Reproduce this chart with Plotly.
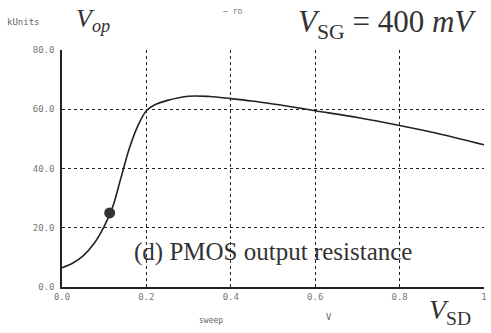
import plotly.graph_objects as go

# Data
vsd = [0.0, 0.025, 0.05, 0.075, 0.1, 0.12, 0.14, 0.16, 0.18, 0.2, 0.22, 0.25,
       0.3, 0.35, 0.4, 0.45, 0.5, 0.55, 0.6, 0.7, 0.8, 0.9, 1.0]
ro = [6.5, 8.0, 10.5, 14.5, 20.5, 27.0, 37.0, 47.0, 54.5, 59.5, 61.5, 63.0,
      64.4, 64.3, 63.6, 62.8, 61.8, 60.7, 59.5, 57.2, 54.5, 51.5, 48.0]
marker_x = [0.113]
marker_y = [25.0]
x_ticks = [0.0, 0.2, 0.4, 0.6, 0.8, 1.0]
x_ticktext = ["0.0", "0.2", "0.4", "0.6", "0.8", "1"]
y_ticks = [0, 20, 40, 60, 80]

W, H = 491, 333
ML, MR, MT, MB = 62, 4, 50, 46

fig = go.Figure()
fig.add_trace(go.Scatter(x=vsd, y=ro, mode="lines", line=dict(color="#222", width=1.6),
                         line_shape="spline", name="ro", showlegend=False))
fig.add_trace(go.Scatter(x=marker_x, y=marker_y, mode="markers",
                         marker=dict(color="#333", size=11), showlegend=False))

tickfont = dict(family="DejaVu Sans Mono", size=9, color="#777")
fig.update_layout(
    width=W, height=H,
    margin=dict(l=ML, r=MR, t=MT, b=MB),
    paper_bgcolor="white", plot_bgcolor="white",
    xaxis=dict(range=[0, 1], tickvals=x_ticks, ticktext=x_ticktext, tickfont=tickfont,
               showgrid=True, gridcolor="#222", griddash="dot", gridwidth=1.3,
               showline=True, linecolor="#222", linewidth=1.5, ticks="", zeroline=False),
    yaxis=dict(range=[0, 80], tickvals=y_ticks, tickformat=".1f", tickfont=tickfont,
               showgrid=True, gridcolor="#222", griddash="dot", gridwidth=1.3,
               showline=True, linecolor="#222", linewidth=1.5, ticks="", zeroline=False,
               ticklabelstandoff=4),
)

serif = "Liberation Serif"
texts = [
    (5, 22, "kUnits", dict(family="DejaVu Sans Mono", size=9, color="#666")),
    (74, 20, "<i>V<sub>op</sub></i>", dict(family=serif, size=26, color="#333")),
    (222, 11, "— ro", dict(family="DejaVu Sans Mono", size=8, color="#777")),
    (298, 24, "<i>V</i><sub>SG</sub> = 400 <i>mV</i>", dict(family=serif, size=31, color="#333")),
    (133, 252, "(d) PMOS output resistance", dict(family=serif, size=25, color="#333")),
    (198, 320, "sweep", dict(family="DejaVu Sans Mono", size=8, color="#666")),
    (326, 317, "V", dict(family="DejaVu Sans Mono", size=9, color="#666")),
    (430, 311, "<i>V</i><sub>SD</sub>", dict(family=serif, size=28, color="#333")),
]
plot_w = W - ML - MR
plot_h = H - MT - MB
for px, py, txt, font in texts:
    fig.add_annotation(xref="paper", yref="paper",
                       x=(px - ML) / plot_w, y=(H - MB - py) / plot_h,
                       xanchor="left", yanchor="middle",
                       text=txt, showarrow=False, font=font)

fig.write_html("out.html")
